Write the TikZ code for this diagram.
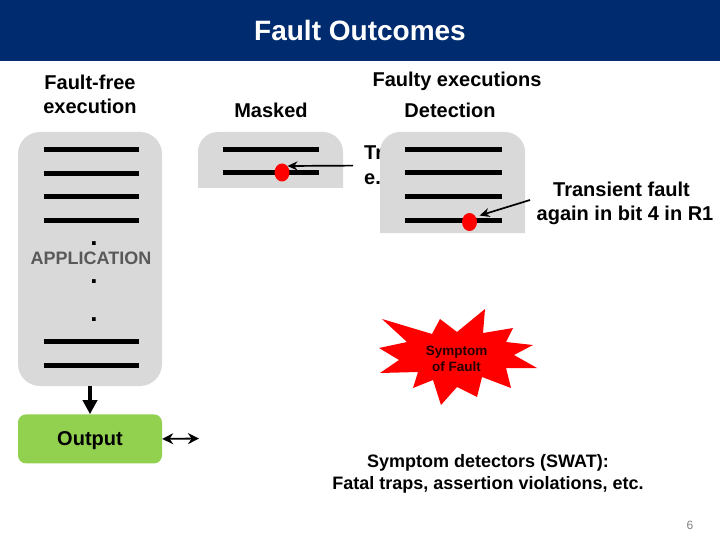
\documentclass[tikz,border=0pt]{standalone}
\usepackage{fontspec}
\setmainfont{Liberation Sans}
\usetikzlibrary{positioning}
\usetikzlibrary{arrows.meta}
\usetikzlibrary{shapes.geometric}
\tikzset{tips=proper}
\definecolor{headblue}{HTML}{002B6E}
\definecolor{panelgray}{HTML}{D9D9D9}
\definecolor{outgreen}{HTML}{92D050}
\definecolor{apptext}{HTML}{595959}
\definecolor{faultred}{HTML}{FF0000}
\tikzset{%
    label/.style={font=\fontsize{20}{24}\selectfont\bfseries, align=center, inner sep=0pt},
    small/.style={font=\fontsize{18}{22}\selectfont\bfseries, align=center, inner sep=0pt},
    panel/.style={fill=panelgray},
    codeline/.style={line width=5pt},
    fault/.style={ellipse, fill=faultred, inner sep=0pt, minimum width=15pt, minimum height=18pt},
    arrow/.style={draw, line width=1.7pt, {-Stealth[length=10pt,width=9pt]}},
    bigarrow/.style={draw, line width=4.2pt, {-Triangle[length=14pt,width=14pt]}},
    linkarrow/.style={draw, line width=1.8pt, {Stealth[length=11pt,width=11pt]-Stealth[length=11pt,width=11pt]}}
}
\begin{document}
\begin{tikzpicture}[x=1pt,y=-1pt]
	\useasboundingbox (0,0) rectangle (720,540);
	\node[minimum width=720pt, minimum height=61pt, fill=headblue, text=white, inner sep=0pt,
		font=\fontsize{28}{32}\selectfont\bfseries] (title) at (360,30.5) {Fault Outcomes};
	\node[label] (freelabel) at (90,94) {Fault-free\\execution};
	\node[label] (faultylabel) at (457,81) {Faulty executions};
	\node[label] (maskedlabel) at (271,110.5) {Masked};
	\node[label] (detectlabel) at (450,110.5) {Detection};
	% application
	\node[fill=panelgray, rounded corners=22pt, minimum width=144pt, minimum height=254pt] (app) at (90,259) {};
	\foreach \y in {150,174,197,221,341,365} {
		\draw[codeline] (44,\y) -- (139,\y);
	}
	\node[font=\fontsize{18}{22}\selectfont\bfseries, text=apptext, inner sep=0pt] (applabel) at (91,258) {APPLICATION};
	\foreach \y/\n in {245/a,283/b,321/c} {
		\node[font=\fontsize{26}{28}\selectfont\bfseries, anchor=base, inner sep=0pt] (dot\n) at (94,\y) {.};
	}
	\node[fill=outgreen, rounded corners=8pt, minimum width=144pt, minimum height=49pt, inner sep=0pt,
		text height=14pt, text depth=0pt,
		font=\fontsize{20}{24}\selectfont\bfseries, below=28pt of app] (output) {Output};
	\draw[bigarrow] (app) -- (output);
	\coordinate (linkend) at (199,438.5);
	\draw[linkarrow] (output.east) -- (linkend);
	% masked
	\fill[panel] (198,188) [rounded corners=20pt] -- (198,132) -- (343,132) [sharp corners] -- (343,188) -- cycle;
	\foreach \y in {150,173} {
		\draw[codeline] (223,\y) -- (319,\y);
	}
	\node[fault] (maskfault) at (282,172.5) {};
	\node[label, anchor=base west] (trleft) at (364,160) {Tr};
	\node[label, anchor=base west] (egleft) at (364,185) {e.};
	\coordinate (maskfrom) at (353,165.6);
	\draw[arrow] (maskfrom) -- (maskfault.50);
	% detection
	\fill[panel] (380,233) [rounded corners=20pt] -- (380,132) -- (525,132) [sharp corners] -- (525,233) -- cycle;
	\foreach \y in {150,173,197,221} {
		\draw[codeline] (405,\y) -- (502,\y);
	}
	\node[fault] (detfault) at (469.5,222) {};
	\node[label] (translabel) at (625,203.5) {Transient fault\hspace*{7pt}\\again in bit 4 in R1};
	\coordinate (detfrom) at (530,200);
	\draw[arrow, shorten >=4pt] (detfrom) -- (detfault.40);
	% symptom
	\fill[faultred] (382,319) -- (432,334) -- (440,319) -- (457,332) -- (485,309) -- (483,333)
		-- (513,328) -- (506,342) -- (533,345) -- (514,355) -- (537,368) -- (506,368)
		-- (511,388) -- (482,377) -- (477,397) -- (457,387) -- (441,405) -- (433,380)
		-- (413,388) -- (418,372) -- (380,373) -- (399,360) -- (379,348) -- (407,342) -- cycle;
	\node[font=\fontsize{13.5}{16}\selectfont\bfseries, align=center, inner sep=0pt, text=black!85!red] (symptom) at (456.5,359) {Symptom\\of Fault};
	\node[small] (detectors) at (488,474) {Symptom detectors (SWAT):\\Fatal traps, assertion violations, etc.};
	\node[font=\fontsize{12}{14}\selectfont, text=gray, inner sep=0pt] (pagenum) at (690,525) {6};
\end{tikzpicture}
\end{document}
